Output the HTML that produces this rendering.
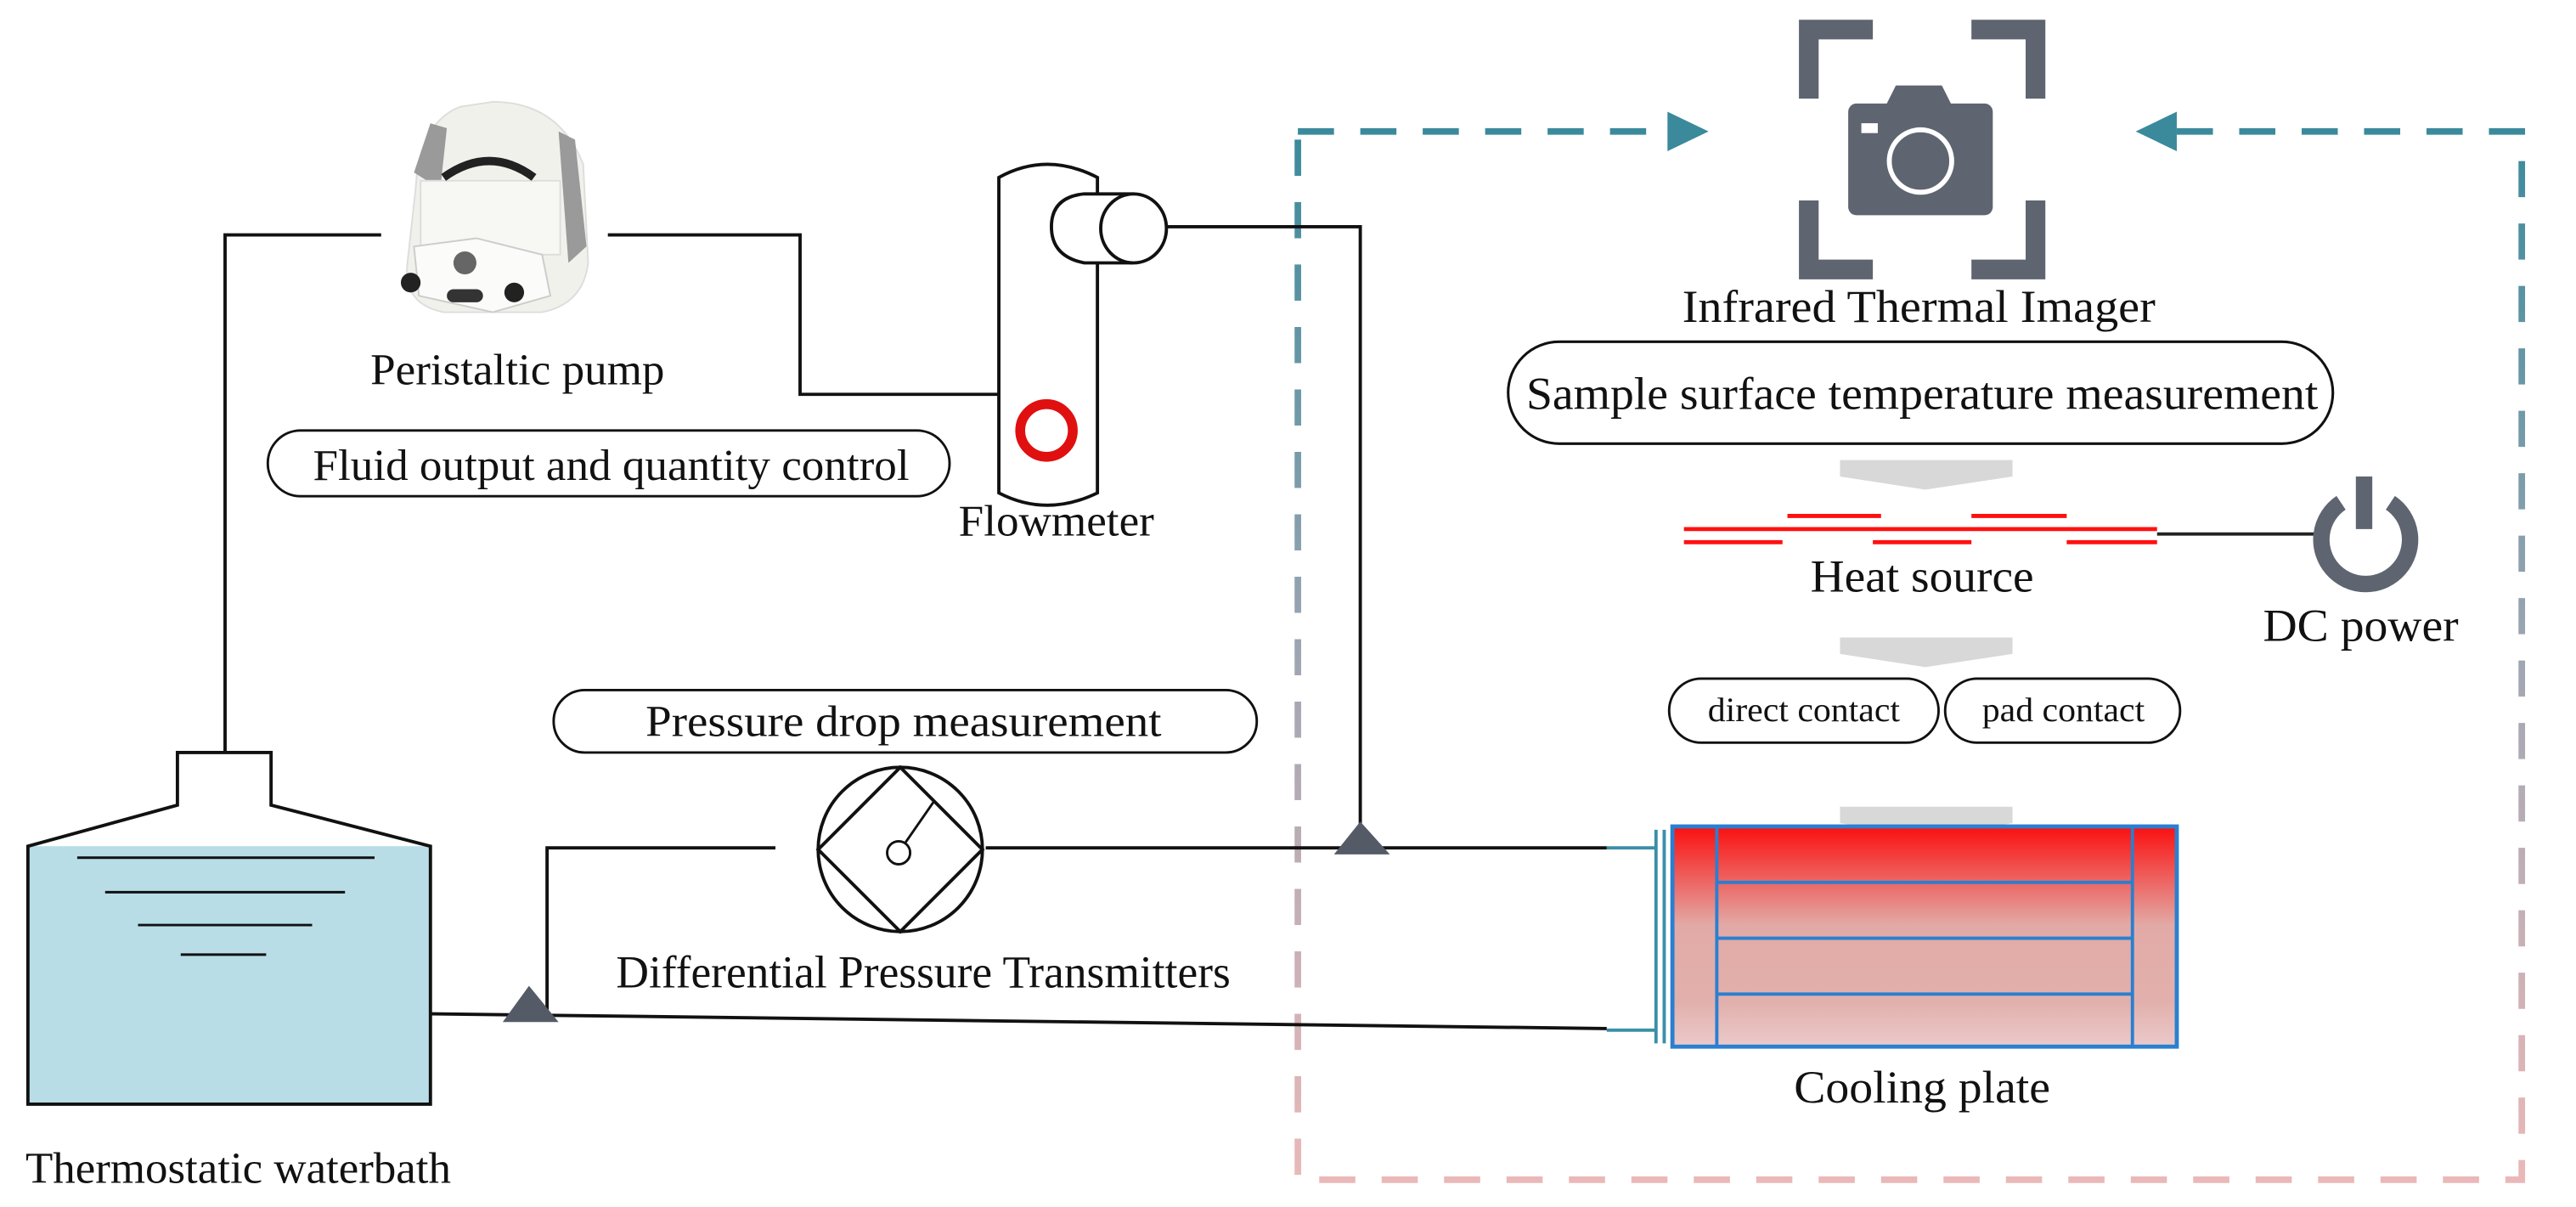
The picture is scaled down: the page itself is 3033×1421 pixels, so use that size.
<!DOCTYPE html>
<html><head><meta charset="utf-8"><style>
html,body{margin:0;padding:0;background:#fff;}
svg{display:block;}
text{font-family:"Liberation Serif",serif;fill:#111;}
</style></head><body>
<svg width="3033" height="1421" viewBox="0 0 1568 734.6" preserveAspectRatio="none" xmlns="http://www.w3.org/2000/svg" font-family="Liberation Serif, serif">
<defs>
<linearGradient id="dash" x1="0" y1="0" x2="0" y2="1">
<stop offset="0" stop-color="#3a8a9c"/><stop offset="0.55" stop-color="#a8a8b4"/><stop offset="1" stop-color="#eab8b8"/>
</linearGradient>
<linearGradient id="plate" x1="0" y1="0" x2="0" y2="1">
<stop offset="0" stop-color="#fa1010"/><stop offset="0.45" stop-color="#e2aaa6"/><stop offset="0.8" stop-color="#e2b0ac"/><stop offset="1" stop-color="#eacaca"/>
</linearGradient>
</defs>
<!-- dashed frame -->
<g fill="none" stroke-width="4" stroke-dasharray="22,16">
<path d="M790,80 L1018,80" stroke="#3a8a9c"/>
<path d="M1325,80 L1535,80 L1535,718 L790,718 L790,80" stroke="url(#dash)"/>
</g>
<polygon points="1015,68 1040,80 1015,92" fill="#3a8a9c"/>
<polygon points="1325,68 1300,80 1325,92" fill="#3a8a9c"/>
<!-- camera -->
<g fill="#5e6570">
<path d="M1095,12 h45 v12 h-33 v36 h-12z"/>
<path d="M1245,12 h-45 v12 h33 v36 h12z"/>
<path d="M1095,170 h45 v-12 h-33 v-36 h-12z"/>
<path d="M1245,170 h-45 v-12 h33 v-36 h12z"/>
<rect x="1125" y="63" width="88" height="68" rx="5"/>
<path d="M1148,64 l6,-12 h28 l6,12z"/>
</g>
<circle cx="1169" cy="98" r="19" fill="none" stroke="#fff" stroke-width="3"/>
<circle cx="1169" cy="98" r="13" fill="#5e6570"/>
<rect x="1133" y="75" width="10" height="6" fill="#fff"/>
<text x="1168" y="196" font-size="28" text-anchor="middle" textLength="288" lengthAdjust="spacingAndGlyphs">Infrared Thermal Imager</text>
<rect x="918" y="208" width="502" height="62" rx="31" fill="none" stroke="#111" stroke-width="1.6"/>
<text x="1170" y="249" font-size="28" text-anchor="middle" textLength="482" lengthAdjust="spacingAndGlyphs">Sample surface temperature measurement</text>
<!-- chevrons -->
<g fill="#d8d8d8">
<polygon points="1120,280 1225,280 1225,290 1172,298 1120,290"/>
<polygon points="1120,388 1225,388 1225,398 1172,406 1120,398"/>
<polygon points="1120,491 1225,491 1225,501 1172,509 1120,501"/>
</g>
<!-- heat source -->
<g stroke="#ff1010" stroke-width="2.5">
<line x1="1088" y1="314" x2="1145" y2="314"/><line x1="1200" y1="314" x2="1258" y2="314"/>
<line x1="1025" y1="322" x2="1313" y2="322"/>
<line x1="1025" y1="330" x2="1085" y2="330"/><line x1="1140" y1="330" x2="1200" y2="330"/><line x1="1258" y1="330" x2="1313" y2="330"/>
</g>
<line x1="1313" y1="325" x2="1418" y2="325" stroke="#222" stroke-width="2"/>
<path d="M1425,306 A27,27 0 1 0 1455,306" fill="none" stroke="#5e6570" stroke-width="10"/>
<rect x="1434" y="290" width="10" height="32" fill="#5e6570"/>
<text x="1170" y="360" font-size="28" text-anchor="middle" textLength="136" lengthAdjust="spacingAndGlyphs">Heat source</text>
<text x="1437" y="390" font-size="28" text-anchor="middle" textLength="119" lengthAdjust="spacingAndGlyphs">DC power</text>
<rect x="1016" y="413" width="164" height="39" rx="19.5" fill="none" stroke="#111" stroke-width="1.5"/>
<rect x="1184" y="413" width="143" height="39" rx="19.5" fill="none" stroke="#111" stroke-width="1.5"/>
<text x="1098" y="439" font-size="21" text-anchor="middle" textLength="117" lengthAdjust="spacingAndGlyphs">direct contact</text>
<text x="1256" y="439" font-size="21" text-anchor="middle" textLength="99" lengthAdjust="spacingAndGlyphs">pad contact</text>
<!-- cooling plate -->
<rect x="1018" y="503" width="307" height="134" fill="url(#plate)" stroke="#2a7fd0" stroke-width="2.5"/>
<g stroke="#2a7fd0" stroke-width="2">
<line x1="1045" y1="503" x2="1045" y2="637"/><line x1="1298" y1="503" x2="1298" y2="637"/>
<line x1="1045" y1="537" x2="1298" y2="537"/><line x1="1045" y1="571" x2="1298" y2="571"/><line x1="1045" y1="605" x2="1298" y2="605"/>
</g>
<g stroke="#3a8fa8" stroke-width="2">
<line x1="1008" y1="505" x2="1008" y2="635"/><line x1="1013" y1="505" x2="1013" y2="635"/>
<line x1="978" y1="516" x2="1008" y2="516"/><line x1="978" y1="627" x2="1008" y2="627"/>
</g>
<text x="1170" y="671" font-size="28" text-anchor="middle" textLength="156" lengthAdjust="spacingAndGlyphs">Cooling plate</text>
<!-- pipes -->
<g fill="none" stroke="#111" stroke-width="2">
<path d="M137,458 V143 H232"/>
<path d="M370,143 H487 V240 H608"/>
<path d="M710,138 H828 V516"/>
<path d="M600,516 H978"/>
<path d="M472,516 H333 V616"/>
<path d="M262,617 L978,626"/>
</g>
<polygon points="828,500 812,520 846,520" fill="#555b66"/>
<polygon points="322,600 306,622 340,622" fill="#555b66"/>
<!-- tank -->
<rect x="17" y="515" width="245" height="157" fill="#b8dde7"/>
<path d="M17,672 V515 L108,490 V458 H165 V490 L262,515 V672 Z" fill="none" stroke="#111" stroke-width="2"/>
<g stroke="#111" stroke-width="1.5">
<line x1="47" y1="522" x2="228" y2="522"/><line x1="64" y1="543" x2="210" y2="543"/>
<line x1="84" y1="563" x2="190" y2="563"/><line x1="110" y1="581" x2="162" y2="581"/>
</g>
<text x="145" y="720" font-size="27" text-anchor="middle" textLength="259" lengthAdjust="spacingAndGlyphs">Thermostatic waterbath</text>
<!-- pump -->
<g>
<path d="M253,115 Q255,75 280,65 L300,62 Q340,62 355,100 L358,160 Q355,185 330,190 L270,190 Q245,185 248,160Z" fill="#f1f1ec" stroke="#ddd"/>
<path d="M252,105 L262,75 L272,78 L268,115Z" fill="#9a9a9a"/>
<path d="M340,80 L350,85 L357,150 L346,160Z" fill="#9a9a9a"/>
<rect x="256" y="110" width="85" height="45" fill="#f7f7f4" stroke="#ddd"/>
<path d="M270,108 Q298,88 325,108" stroke="#222" stroke-width="5" fill="none"/>
<path d="M252,150 L290,145 L330,155 L335,180 L300,190 L255,180Z" fill="#fbfbf9" stroke="#ccc"/>
<circle cx="283" cy="160" r="7" fill="#666"/>
<circle cx="250" cy="172" r="6" fill="#222"/><circle cx="313" cy="178" r="6" fill="#222"/>
<rect x="272" y="176" width="22" height="8" rx="4" fill="#333"/>
</g>
<text x="315" y="234" font-size="27" text-anchor="middle" textLength="179" lengthAdjust="spacingAndGlyphs">Peristaltic pump</text>
<rect x="163" y="262" width="415" height="40" rx="20" fill="none" stroke="#111" stroke-width="1.5"/>
<text x="372" y="292" font-size="27" text-anchor="middle" textLength="363" lengthAdjust="spacingAndGlyphs">Fluid output and quantity control</text>
<!-- flowmeter -->
<path d="M608,108 Q637,92 668,108 V300 Q637,315 608,300 Z" fill="#fff" stroke="#111" stroke-width="2"/>
<path d="M690,118 H660 Q640,120 640,138 Q640,156 660,160 H690" fill="#fff" stroke="#111" stroke-width="2"/>
<ellipse cx="690" cy="139" rx="20" ry="21" fill="#fff" stroke="#111" stroke-width="2"/>
<circle cx="637" cy="262" r="16" fill="none" stroke="#e01010" stroke-width="6"/>
<text x="643" y="326" font-size="27" text-anchor="middle" textLength="119" lengthAdjust="spacingAndGlyphs">Flowmeter</text>
<!-- DP -->
<rect x="337" y="420" width="428" height="38" rx="19" fill="none" stroke="#111" stroke-width="1.5"/>
<text x="550" y="448" font-size="27" text-anchor="middle" textLength="314" lengthAdjust="spacingAndGlyphs">Pressure drop measurement</text>
<circle cx="548" cy="517" r="50" fill="#fff" stroke="#111" stroke-width="2"/>
<polygon points="548,467 598,517 548,567 498,517" fill="none" stroke="#111" stroke-width="2"/>
<circle cx="547" cy="519" r="7" fill="#fff" stroke="#111" stroke-width="1.5"/>
<line x1="551" y1="513" x2="569" y2="487" stroke="#111" stroke-width="1.5"/>
<text x="562" y="601" font-size="28" text-anchor="middle" textLength="374" lengthAdjust="spacingAndGlyphs">Differential Pressure Transmitters</text>
</svg>
</body></html>
